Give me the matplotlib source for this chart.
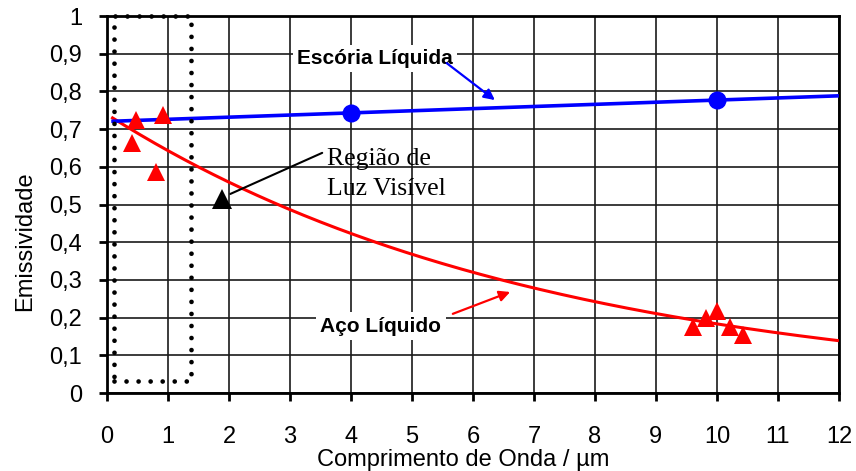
import numpy as np
import matplotlib
matplotlib.use("Agg")
import matplotlib.pyplot as plt
from matplotlib.patches import Rectangle

# Measured emissivity of liquid steel (Aço Líquido)
aco_x = [0.41, 0.475, 0.80, 0.92, 9.61, 9.82, 10.0, 10.21, 10.42]
aco_y = [0.663, 0.724, 0.586, 0.737, 0.175, 0.200, 0.218, 0.175, 0.154]

# Measured emissivity of liquid slag (Escória Líquida)
escoria_x = [4.0, 10.0]
escoria_y = [0.743, 0.777]

# Visible light region marker
visivel_x = [1.88]
visivel_y = [0.515]

x_ticks = list(range(0, 13))
y_ticks = [0, 0.1, 0.2, 0.3, 0.4, 0.5, 0.6, 0.7, 0.8, 0.9, 1.0]
y_tick_labels = ["0", "0,1", "0,2", "0,3", "0,4", "0,5", "0,6", "0,7", "0,8", "0,9", "1"]

plt.rcParams["font.family"] = ["Liberation Sans", "DejaVu Sans"]

fig = plt.figure(figsize=(8.56, 4.71), dpi=100)
ax = fig.add_axes([0.125, 0.1656, 0.855, 0.8004])

# Trend lines: exponential fit for steel, linear fit for slag
xs = np.linspace(0.07, 12, 300)
b, ln_a = np.polyfit(aco_x, np.log(aco_y), 1)
ax.plot(xs, np.exp(ln_a) * np.exp(b * xs), color="#ff0000", lw=2.2, zorder=3,
        solid_capstyle="butt")
m, c = np.polyfit(escoria_x, escoria_y, 1)
ax.plot(xs, m * xs + c, color="#0000ff", lw=2.6, zorder=3, solid_capstyle="butt")

# Data markers
ax.plot(aco_x, aco_y, linestyle="none", marker="^", ms=13.5, color="#ff0000",
        markeredgewidth=0, zorder=5)
ax.plot(escoria_x, escoria_y, linestyle="none", marker="o", ms=13, color="#0000ff",
        markeredgewidth=0, zorder=5)

# Visible light band
ax.add_patch(Rectangle((0.115, 0.032), 1.255, 0.968, fill=False, edgecolor="black",
                       lw=3.4, linestyle=(0, (0.001, 2.55)), capstyle="round",
                       joinstyle="round", zorder=4, clip_on=False))

# Callout for the visible region
ax.plot(visivel_x, visivel_y, linestyle="none", marker="^", ms=15, color="black",
        markeredgewidth=0, zorder=6)
ax.annotate("", xy=(visivel_x[0] + 0.1, visivel_y[0] + 0.01), xytext=(3.57, 0.64),
            arrowprops=dict(arrowstyle="-", color="black", lw=1.5), zorder=6)
ax.text(3.607, 0.605, "Região de", family=["Liberation Serif"], fontsize=18.5,
        ha="left", va="baseline", zorder=6)
ax.text(3.607, 0.525, "Luz Visível", family=["Liberation Serif"], fontsize=18.5,
        ha="left", va="baseline", zorder=6)

# Series labels with arrows
ax.annotate("", xy=(6.36, 0.777), xytext=(5.57, 0.875),
            arrowprops=dict(arrowstyle="-|>", color="#0000ff", lw=1.6,
                            mutation_scale=16, shrinkA=0, shrinkB=0), zorder=7)
ax.text(4.40, 0.873, "Escória Líquida", fontsize=15, fontweight="bold",
        ha="center", va="baseline", zorder=6,
        bbox=dict(boxstyle="square,pad=0.2", facecolor="white", edgecolor="none"))
ax.annotate("", xy=(6.61, 0.268), xytext=(5.67, 0.21),
            arrowprops=dict(arrowstyle="-|>", color="#ff0000", lw=1.6,
                            mutation_scale=16, shrinkA=0, shrinkB=0), zorder=7)
ax.text(4.49, 0.163, "Aço Líquido", fontsize=15, fontweight="bold",
        ha="center", va="baseline", zorder=6,
        bbox=dict(boxstyle="square,pad=0.2", facecolor="white", edgecolor="none"))

# Axes
ax.set_xlim(0, 12)
ax.set_ylim(0, 1)
ax.set_xticks(x_ticks)
ax.set_yticks(y_ticks)
ax.set_yticklabels(y_tick_labels)
ax.grid(True, color="#1a1a1a", lw=1.2, zorder=1)
ax.set_axisbelow(True)
for s in ax.spines.values():
    s.set_linewidth(2.0)
    s.set_color("black")
ax.tick_params(axis="x", direction="out", length=5.8, width=2.0, pad=18, labelsize=17)
ax.tick_params(axis="y", direction="out", length=5.8, width=2.0, pad=12, labelsize=17)

ax.set_xlabel("Comprimento de Onda / µm", fontsize=17)
ax.xaxis.set_label_coords(0.487, -0.148)
ax.set_ylabel("Emissividade", fontsize=17)
ax.yaxis.set_label_coords(-0.097, 0.403)

fig.savefig("out.png", dpi=100)
